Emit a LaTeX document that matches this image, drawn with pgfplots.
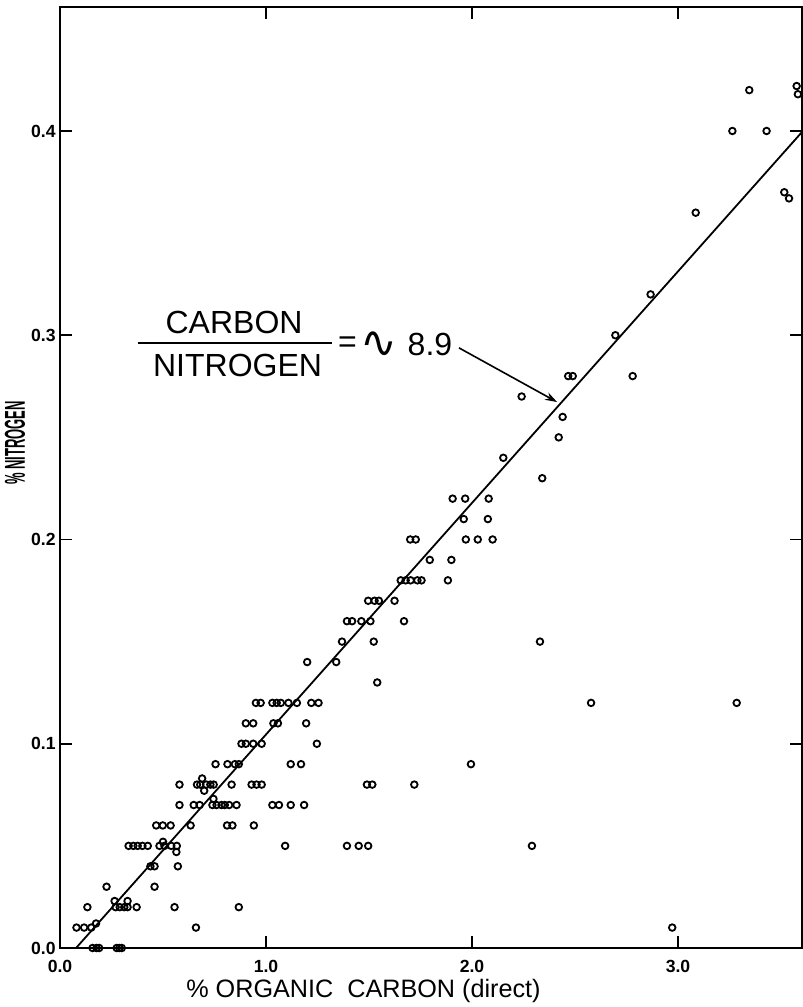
\documentclass[border=0pt]{standalone}
\usepackage{fontspec}
\setmainfont{Liberation Sans}
\newfontfamily\symfont{DejaVu Sans}
\usepackage{graphicx}
\usepackage{pgfplots}
\pgfplotsset{compat=1.18}
\usetikzlibrary{arrows.meta,calc}

\begin{document}
\begin{tikzpicture}
\begin{axis}[
  scale only axis, width=371pt, height=470.5pt,
  xmin=0, xmax=3.602, ymin=0, ymax=0.4607,
  axis line style={line width=1.1pt},
  tick style={line width=0.9pt, black},
  major tick length=6pt, tick align=inside, tick pos=both,
  xticklabel pos=lower, yticklabel pos=left,
  xtick={0,1,2,3}, xticklabels={0.0,1.0,2.0,3.0},
  ytick={0,0.1,0.2,0.3,0.4}, yticklabels={0.0,0.1,0.2,0.3,0.4},
  tick label style={font=\fontsize{8.8}{10}\selectfont\bfseries},
  xticklabel style={anchor=base, yshift=-12pt},
  yticklabel style={anchor=east, inner sep=0pt, xshift=-2pt},
  xlabel={\% ORGANIC\ \ CARBON (direct)},
  xlabel style={at={(axis description cs:0.409,-0.0521)}, anchor=base,
    font=\fontsize{12.6}{14}\selectfont},
  ylabel={\scalebox{0.52}[1.15]{\% NITROGEN}},
  ylabel style={at={(axis description cs:-0.0472,0.5367)}, anchor=base,
    font=\fontsize{12.5}{14}\selectfont\bfseries},
  clip=false,
]
% fitted line, C/N about 8.9
\addplot[black, line width=0.9pt] coordinates {(0.078,0) (3.602,0.3995)};

\addplot[only marks, mark=o, mark size=1.65pt, mark options={line width=0.9pt, black}] coordinates {
(0.158,0) (0.177,0) (0.19,0) (0.275,0) (0.288,0) (0.30,0)
(0.08,0.01) (0.117,0.01) (0.152,0.01) (0.175,0.012) (0.66,0.01) (2.972,0.01)
(0.133,0.02) (0.27,0.02) (0.29,0.02) (0.312,0.02) (0.328,0.02) (0.265,0.023) (0.328,0.023)
(0.372,0.02) (0.556,0.02) (0.868,0.02)
(0.226,0.03) (0.459,0.03)
(0.439,0.04) (0.459,0.04) (0.572,0.04)
(0.333,0.05) (0.356,0.05) (0.377,0.05) (0.40,0.05) (0.426,0.05) (0.483,0.05) (0.507,0.05)
(0.50,0.052) (0.54,0.05) (0.567,0.05) (0.565,0.047) (1.093,0.05) (1.393,0.05) (1.45,0.05)
(1.496,0.05) (2.291,0.05)
(0.467,0.06) (0.499,0.06) (0.537,0.06) (0.634,0.06) (0.811,0.06) (0.837,0.06) (0.941,0.06)
(0.58,0.07) (0.649,0.07) (0.678,0.07) (0.74,0.07) (0.745,0.073) (0.76,0.07) (0.784,0.07)
(0.80,0.07) (0.821,0.07) (0.857,0.07) (1.031,0.07) (1.063,0.07) (1.12,0.07) (1.185,0.07)
(0.58,0.08) (0.665,0.08) (0.681,0.08) (0.69,0.083) (0.70,0.077) (0.71,0.08) (0.73,0.08)
(0.746,0.08) (0.833,0.08) (0.93,0.08) (0.954,0.08) (0.979,0.08) (1.49,0.08) (1.516,0.08)
(1.72,0.08)
(0.755,0.09) (0.813,0.09) (0.849,0.09) (0.868,0.09) (1.12,0.09) (1.17,0.09) (1.995,0.09)
(0.881,0.10) (0.902,0.10) (0.938,0.10) (0.979,0.10) (1.247,0.10)
(0.902,0.11) (0.938,0.11) (1.036,0.11) (1.058,0.11) (1.195,0.11)
(0.951,0.12) (0.974,0.12) (1.031,0.12) (1.052,0.12) (1.072,0.12) (1.109,0.12) (1.15,0.12)
(1.22,0.12) (1.255,0.12) (2.578,0.12) (3.285,0.12)
(1.54,0.13)
(1.20,0.14) (1.341,0.14)
(1.369,0.15) (1.523,0.15) (2.33,0.15)
(1.393,0.16) (1.418,0.16) (1.463,0.16) (1.507,0.16) (1.67,0.16)
(1.496,0.17) (1.527,0.17) (1.548,0.17) (1.624,0.17)
(1.654,0.18) (1.678,0.18) (1.702,0.18) (1.735,0.18) (1.755,0.18) (1.883,0.18)
(1.795,0.19) (1.90,0.19)
(1.70,0.20) (1.727,0.20) (1.97,0.20) (2.028,0.20) (2.10,0.20)
(1.96,0.21) (2.077,0.21)
(1.906,0.22) (1.967,0.22) (2.081,0.22)
(2.341,0.23) (2.152,0.24) (2.421,0.25) (2.44,0.26) (2.241,0.27)
(2.467,0.28) (2.489,0.28) (2.78,0.28)
(2.696,0.30) (2.867,0.32) (3.086,0.36)
(3.516,0.370) (3.539,0.367)
(3.264,0.40) (3.43,0.40)
(3.346,0.42) (3.576,0.422) (3.582,0.418)
};

% annotation
\node[font=\fontsize{16}{18}\selectfont] at (axis cs:0.845,0.306) {CARBON};
\draw[line width=1.2pt] (axis cs:0.379,0.2962) -- (axis cs:1.320,0.2962);
\node[font=\fontsize{16}{18}\selectfont] at (axis cs:0.862,0.285) {NITROGEN};
\node[font=\fontsize{16}{18}\selectfont] at (axis cs:1.396,0.2952) {=};
\node[font=\fontsize{22}{24}\selectfont\symfont] at (axis cs:1.546,0.2955) {∿};
\node[font=\fontsize{16}{18}\selectfont] at (axis cs:1.796,0.2957) {8.9};
\draw[line width=0.8pt, -{Stealth[length=6pt,width=4pt]}] (axis cs:1.937,0.2938) -- (axis cs:2.413,0.2673);

\coordinate (SW) at (rel axis cs:0,0);
\coordinate (NE) at (rel axis cs:1,1);
\end{axis}
\pgfresetboundingbox
\path[use as bounding box] ($(SW)+(-30pt,-29.5pt)$) rectangle ($(NE)+(0.5pt,3.5pt)$);
\end{tikzpicture}
\end{document}
